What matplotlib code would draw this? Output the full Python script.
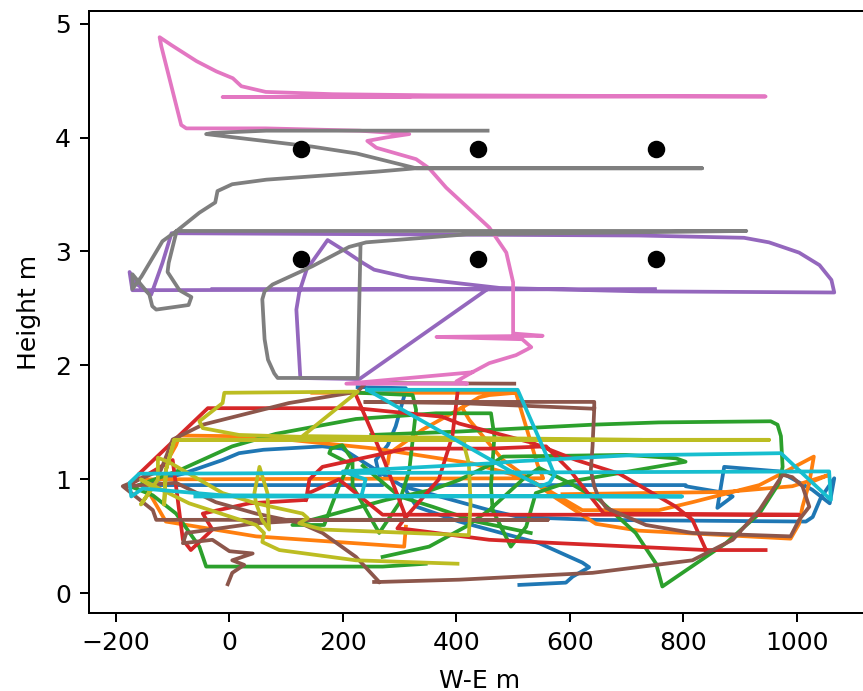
import numpy as np
import matplotlib
matplotlib.use("Agg")
import matplotlib.pyplot as plt

BR = (np.nan, np.nan)  # pen up

# tracks as (W-E m, height m), one list per flight
blue = [(226, 1.81), (311, 1.80), (308, 1.73), (293, 1.465), (279, 1.30), (258, 1.17), (264, 1.04), (270, 0.95),
        (-160, 0.95), (-82, 1.05), (-12, 1.17), (17, 1.23), (60, 1.26), (164, 1.29), (199, 1.27), (240, 1.14), (305, 0.94),
        (458, 0.73), (511, 0.67), (640, 0.645), (1016, 0.63), (1028, 0.67), (1042, 0.835), (1066, 1.01),
        (1058, 0.79), (1027, 0.91), (969, 1.07), (872, 1.11), (860, 0.75), (887, 0.85), (875, 0.88), (804, 0.94),
        (804, 0.95), (305, 0.95), (330, 0.76), (405, 0.63), (546, 0.44), (622, 0.27), (634, 0.229), (605, 0.147),
        (593, 0.094), (511, 0.074)]
orange = [(587, 0.87), (875, 0.89), (992, 0.94), (1057, 1.04), (1022, 0.97), (1030, 1.20), (969, 1.04), (934, 0.95),
          (816, 0.80), (757, 0.73), (622, 0.73), (546, 0.95), (523, 1.01), (428, 1.14), (258, 1.27), (47, 1.377),
          (-88, 1.385), (-94, 1.30), (-112, 1.14), (-155, 1.0), (553, 1.01), (543, 1.13), (523, 1.46), (505, 1.76),
          (458, 1.74), (440, 1.72), (410, 1.63), (340, 1.435), (282, 1.23), (279, 1.14), BR,
          (146, 1.76), (505, 1.76), BR,
          (1022, 0.97), (1010, 0.76), (1004, 0.61), (989, 0.48), (875, 0.51), (722, 0.55), (646, 0.61), (576, 0.835),
          (482, 1.17), (423, 1.52), (410, 1.63), BR,
          (-155, 1.0), (-112, 0.63), (47, 0.50), (308, 0.41), (311, 0.585)]
green = [(346, 0.26), (270, 0.235), (-41, 0.235), (-53, 0.41), (-94, 0.70), (-135, 0.86), (-170, 0.93), (-88, 1.08),
         (5, 1.29), (82, 1.40), (223, 1.53), (364, 1.58), (461, 1.58), (467, 1.38), (461, 0.94), (464, 0.73),
         (496, 0.41), (523, 0.585), (540, 0.88), (599, 0.98), (804, 1.155), (787, 1.185), (699, 1.215), (482, 1.2),
         (464, 1.14), (405, 0.995), (358, 0.91), (276, 0.82), (164, 0.67), (111, 0.60), (167, 0.60), (193, 0.94),
         (211, 1.14), (176, 1.23), (179, 1.27), (199, 1.30), (217, 1.17), (217, 0.94), (264, 0.53), (299, 0.79),
         (317, 1.08), (329, 1.61), (323, 1.74), (226, 1.76), BR,
         (270, 0.32), (352, 0.41), (417, 0.586), (458, 0.73), (517, 1.0), (546, 1.10), (599, 0.97), (652, 0.82),
         (716, 0.53), (752, 0.26), (763, 0.06), (875, 0.44), (934, 0.70), (969, 0.97), (975, 1.11), (972, 1.38), (966, 1.48),
         (954, 1.51), (757, 1.50), (640, 1.48), (405, 1.42), (250, 1.39), BR,
         (531, 0.53), (435, 0.63), (358, 0.76), (300, 0.85), (235, 1.12)]
red = [(945, 0.38), (840, 0.38), (816, 0.645), (787, 0.76), (687, 1.05), (611, 1.17), (534, 1.32), (405, 1.49),
       (375, 1.55), (223, 1.625), (-38, 1.625), (-159, 1.05), (-170, 0.97), (-100, 1.17), (-82, 0.47), (-68, 0.38),
       (-30, 0.56), (-47, 0.70), (35, 0.79), (135, 0.82), (141, 1.0), (164, 1.11), (311, 1.27), (458, 1.27),
       (558, 1.29), (600, 1.08), (660, 0.70), (1004, 0.69), (270, 0.69), (193, 1.0), (140, 0.88), (135, 0.82), BR,
       (402, 1.76), (393, 1.38), (369, 1.0), (311, 0.67), (296, 0.57), (317, 0.56), (458, 0.47), (581, 0.44),
       (840, 0.38), BR,
       (223, 1.74), (270, 1.2), (311, 0.67)]
purple = [(750, 2.67), (-171, 2.66), (-176, 2.82), (-165, 2.72), (-138, 2.62), (-118, 2.90), (-102, 3.16), (722, 3.14),
          (907, 3.12), (951, 3.08), (1004, 2.99), (1040, 2.88), (1061, 2.75), (1066, 2.64), (722, 2.65), (476, 2.68),
          (317, 2.77), (255, 2.84), (235, 2.90), (205, 3.0), (173, 3.10), (136, 2.84), (123, 2.64), (118, 2.49), (125, 1.89),
          (229, 1.88), (455, 2.67), (-30, 2.67)]
brown = [(-3, 0.08), (5, 0.18), (26, 0.25), (5, 0.29), (41, 0.35), (0, 0.37), (-30, 0.47), (-82, 0.44), (-76, 0.53),
         (47, 0.615), (150, 0.645), (561, 0.645), (-129, 0.645), (-135, 0.73), (-188, 0.94), (-121, 1.08), (-100, 1.35),
         (-47, 1.48), (105, 1.67), (226, 1.77), (240, 1.845), (502, 1.84), BR,
         (240, 1.68), (405, 1.67), (643, 1.62), (643, 1.68), (240, 1.68), BR,
         (643, 1.62), (640, 1.29), (637, 1.08), (643, 0.94), (650, 0.85), (664, 0.75), (734, 0.60), (816, 0.53), (989, 0.50),
         (1004, 0.645), (1022, 0.76), (1010, 0.94), (992, 1.02), (975, 1.04), (934, 0.73), (887, 0.47), (816, 0.29),
         (640, 0.18), (405, 0.12), (264, 0.10), (255, 0.10), BR,
         (264, 0.10), (223, 0.32), (164, 0.53), (123, 0.62), (47, 0.70), (-24, 0.80), (-94, 0.97), (-180, 0.94)]
pink = [(317, 4.355), (-12, 4.355), (945, 4.36), (358, 4.37), (182, 4.38), (64, 4.40), (21, 4.45), (6, 4.52),
        (-23, 4.58), (-58, 4.67), (-102, 4.81), (-123, 4.88), (-120, 4.80), (-85, 4.11), (-76, 4.08), (64, 4.08),
        (229, 4.06), (317, 4.03), (276, 4.0), (243, 3.97), (259, 3.91), (329, 3.81), (352, 3.73), (382, 3.56),
        (458, 3.21), (488, 2.99), (500, 2.73), (500, 2.28), (552, 2.26), (365, 2.25), (516, 2.23), (532, 2.16),
        (505, 2.09), (458, 2.02), (428, 1.94), (206, 1.84), (419, 1.84), (400, 1.86), (428, 1.94)]
gray = [(231, 3.04), (226, 1.89), (85, 1.89), (79, 1.93), (68, 2.05), (62, 2.23), (60, 2.40), (58, 2.58), (62, 2.65), (76, 2.71),
        (146, 2.87), (211, 3.04), (241, 3.08), (418, 3.15), (911, 3.18), (-93, 3.18), (-107, 2.90), (-109, 2.82), (-88, 2.66),
        (-67, 2.60), (-72, 2.53), (-129, 2.49), (-136, 2.52), (-141, 2.62), (-171, 2.80), (-171, 2.67), (-155, 2.78),
        (-118, 3.09), (-93, 3.18), (-53, 3.34), (-25, 3.43), (-21, 3.53), (5, 3.59), (65, 3.63), (259, 3.70), (329, 3.73),
        (833, 3.73), (329, 3.73), (224, 3.86), (146, 3.92), (-41, 4.03), (-30, 4.04), (65, 4.06), (455, 4.06)]
olive = [(402, 0.26), (223, 0.29), (88, 0.38), (58, 0.45), (61, 0.53), (47, 0.60), (-71, 0.79), (-156, 1.0), (-135, 0.93),
         (-156, 0.78), (-126, 1.0), (-126, 1.19), (-106, 1.15), (-12, 0.88), (47, 0.79), (44, 0.88), (53, 1.11), (67, 0.88),
         (70, 0.56), (58, 0.64), (47, 0.79), (129, 0.70), (138, 0.66), (123, 0.615), (164, 0.56), (422, 0.51), (425, 0.79),
         (422, 1.14), (414, 1.29), (414, 1.347), (951, 1.347), (-97, 1.347), (-112, 1.08), (-115, 0.78), (-112, 1.08),
         (-97, 1.347), (728, 1.347), (129, 1.38), (226, 1.77), (-9, 1.76), (-12, 1.67), (-53, 1.51), (-47, 1.45), (17, 1.39),
         (150, 1.37), (400, 1.35)]
cyan = [(-60, 0.85), (798, 0.85), (-12, 0.86), (-153, 0.92), (-173, 0.85), (-176, 0.97), (-159, 1.05), (1057, 1.07),
        (1060, 0.82), (1004, 1.08), (972, 1.23), (699, 1.21), (511, 1.16), (458, 1.14), (200, 1.07), (240, 1.0), (234, 0.88), BR,
        (243, 1.786), (508, 1.786), (561, 1.186), (573, 1.04), (564, 0.97), (549, 0.94), (493, 1.08), (243, 1.786)]
tracks = [blue, orange, green, red, purple, brown, pink, gray, olive, cyan]

# sensor positions
sensor_x = [127, 439, 751, 127, 439, 751]
sensor_y = [3.90, 3.90, 3.90, 2.93, 2.93, 2.93]

fig = plt.figure(figsize=(863 / 180, 691 / 180), dpi=180)
ax = fig.add_axes([88.7 / 863, (691 - 613.3) / 691, (870 - 88.7) / 863, (613.3 - 11) / 691])

for track in tracks:
    xy = np.array(track, dtype=float)
    ax.plot(xy[:, 0], xy[:, 1])
ax.plot(sensor_x, sensor_y, 'ko')

ax.set_xlim(-248, 1129)
ax.set_ylim(-0.175, 5.11)
ax.set_xticks([-200, 0, 200, 400, 600, 800, 1000])
ax.set_xlabel('W-E m', labelpad=5.5)
ax.set_ylabel('Height m', labelpad=5.5)

fig.savefig("out.png", dpi=180)
